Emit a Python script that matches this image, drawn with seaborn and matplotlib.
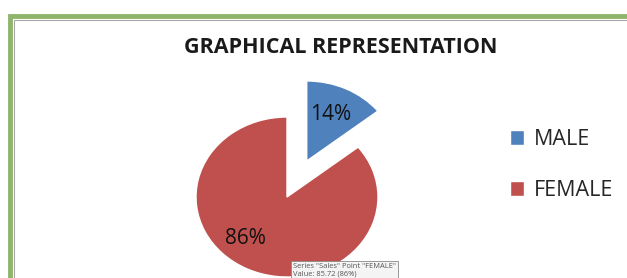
import matplotlib
matplotlib.use("Agg")
import matplotlib.pyplot as plt
from matplotlib.patches import Rectangle
import seaborn as sns

# data
labels = ["MALE", "FEMALE"]
values = [14.28, 85.72]
colors = ["#4f81bd", "#c0504d"]
title = "GRAPHICAL REPRESENTATION"
tooltip = 'Series "Sales" Point "FEMALE"\nValue: 85.72 (86%)'

sns.set_theme(style="white")
plt.rcParams['font.family'] = ['Open Sans', 'DejaVu Sans']

W, H = 627, 278
fig = plt.figure(figsize=(W / 100, H / 100), dpi=100)

# green chart frame (cropped screenshot of a spreadsheet chart)
fig.patches.append(Rectangle((10 / W, -0.1), 1.2, (H - 16) / H + 0.1, transform=fig.transFigure,
                             fill=False, edgecolor="#8fb56c", linewidth=3.5))
fig.patches.append(Rectangle((13.5 / W, -0.1), 1.2, (H - 20) / H + 0.1, transform=fig.transFigure,
                             fill=False, edgecolor="#a8a8a8", linewidth=0.8))

# pie axes mapped to pixels: centre at (287, 197), rx=91, ry=80
cx, cy, rx, ry = 287, 197, 91, 80
ax = fig.add_axes([0, 0, 1, 1])
wedges, texts, autotexts = ax.pie(values, colors=colors, explode=[0.5, 0], startangle=90,
                                  counterclock=False, autopct=lambda p: f"{p:.0f}%",
                                  pctdistance=0.68, textprops={'fontsize': 15, 'color': '#111111'})
ax.set_aspect('auto')
ax.set_xlim(-cx / rx, (W - cx) / rx)
ax.set_ylim(-(H - cy) / ry, cy / ry)
ax.axis('off')
autotexts[1].set_position((-0.46, -0.52))
autotexts[0].set_position((0.48, 1.03))

fig.text(341 / W, 1 - 47 / H, title, ha='center', va='center', fontsize=15.5, fontweight='bold',
         color='#1a1a1a')

fig.legend(wedges, labels, loc='center left', bbox_to_anchor=(491 / W, 1 - 165 / H), frameon=False,
           fontsize=15.5, handlelength=0.65, handleheight=0.65, handletextpad=0.45, labelspacing=1.4)

fig.text(293 / W, 1 - 270 / H, tooltip, ha='left', va='center', fontsize=5.4, color='#555555',
         linespacing=1.1,
         bbox=dict(boxstyle='square,pad=0.3', facecolor='#f4f4f4', edgecolor='#888888', linewidth=0.6))

fig.savefig("out.png", dpi=100, facecolor='white')
